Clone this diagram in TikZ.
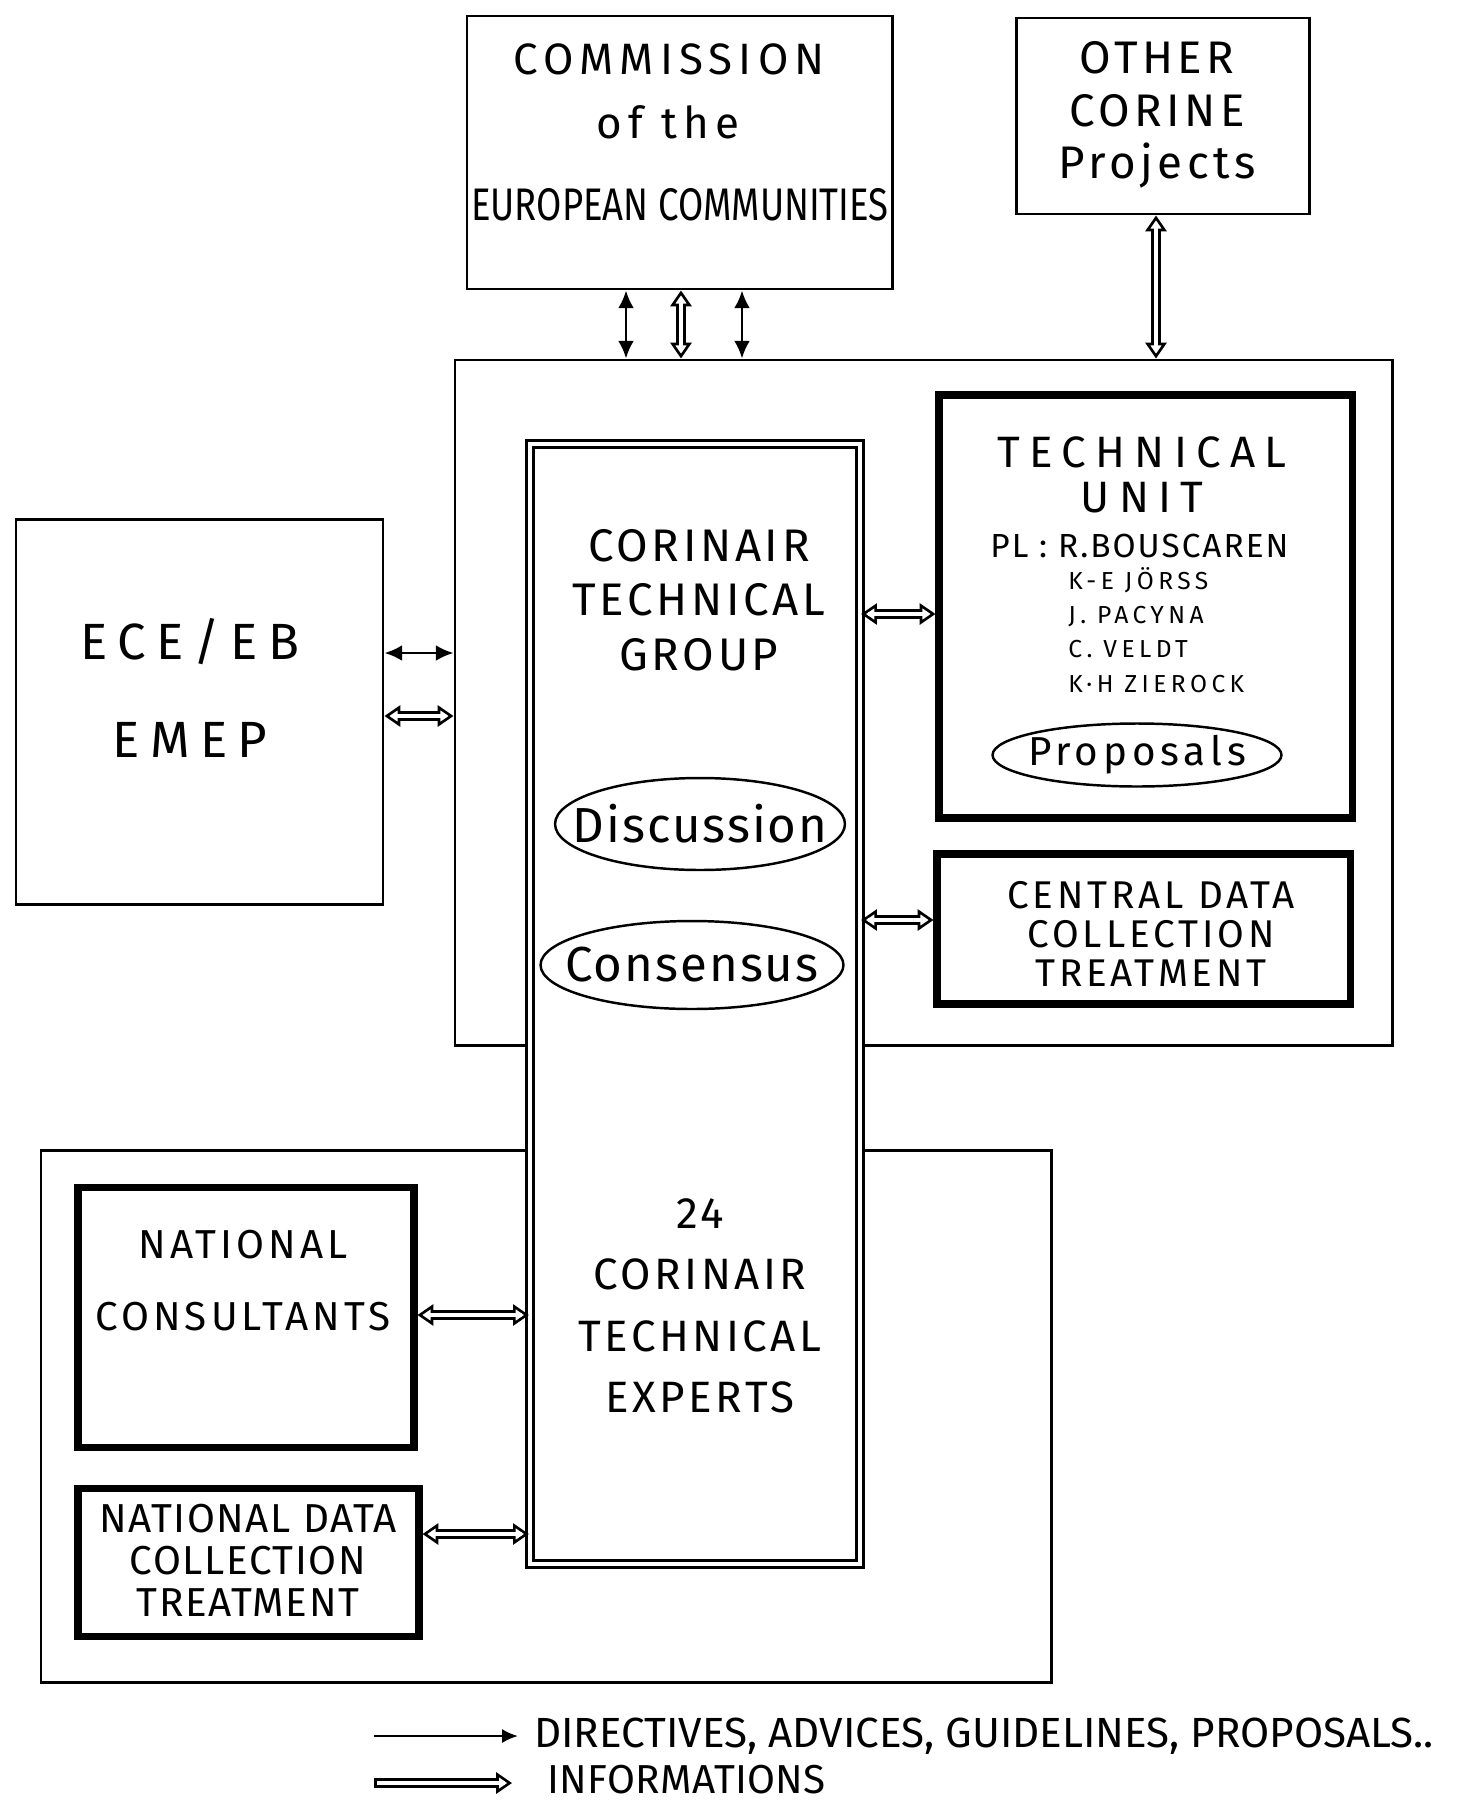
\documentclass[tikz,border=0pt]{standalone}
\usepackage{fontspec}
\setmainfont{Fira Sans}
\newfontfamily\hand{Fira Sans}
\newfontfamily\handnarrow[FakeStretch=0.8]{Fira Sans}
\usetikzlibrary{arrows.meta,shapes.geometric,fit,decorations.markings}
\tikzset{
	infotip/.tip={Triangle[open,length=9pt,width=12pt]},
	box/.style={draw,line width=1.7pt,inner sep=0pt},
	heavybox/.style={draw,line width=4pt,inner sep=0pt},
	bubble/.style={ellipse,draw,line width=1.4pt,inner xsep=-40pt,inner ysep=-5pt},
	txt/.style n args={3}{font={\hand\fontsize{#1}{#2}\selectfont\addfontfeatures{LetterSpace=#3}},align=center,inner sep=0pt},
	narrowtxt/.style={font={\handnarrow\fontsize{#1}{#1}\selectfont},inner sep=0pt},
	dirArrow/.style={line width=1.5pt,{Latex[length=10pt,width=9pt]}-{Latex[length=10pt,width=9pt]}},
	dirArrowEnd/.style={line width=1.5pt,-{Latex[length=9pt,width=8pt]}},
	infoArrow/.style={line width=5.2pt,shorten <=8pt,shorten >=8pt,
		preaction={decorate,decoration={markings,
			mark=at position 0 with {\arrowreversed[line width=1.5pt]{infotip}},
			mark=at position 1 with {\arrow[line width=1.5pt]{infotip}}}},
		postaction={draw,white,line width=2.2pt,shorten <=4pt,shorten >=4pt}},
	infoArrowEnd/.style={line width=5.2pt,shorten >=8pt,
		preaction={decorate,decoration={markings,
			mark=at position 1 with {\arrow[line width=1.5pt]{infotip}}}},
		postaction={draw,white,line width=2.2pt,shorten <=1.6pt,shorten >=4pt}},
}
\begin{document}
\begin{tikzpicture}[x=0.02cm,y=-0.02cm]
	\useasboundingbox (0,0) rectangle (1470,1805);
	% boxes
	\node[box,fit={(467,16) (892,289)}] (comm) {};
	\node[box,fit={(1016,18) (1309,214)}] (other) {};
	\node[box,fit={(455,360) (1392,1045)}] (core) {};
	\node[box,fit={(16,519) (383,904)}] (ece) {};
	\node[box,fit={(41,1150) (1051,1682)}] (national) {};
	\node[heavybox,fit={(939,395) (1352,818)}] (techunit) {};
	\node[heavybox,fit={(937,854) (1350,1004)}] (central) {};
	\node[heavybox,fit={(78,1187) (414,1447)}] (consult) {};
	\node[heavybox,fit={(78,1488) (419,1636)}] (natdata) {};
	\node[draw,fill=white,line width=1.3pt,double,double distance=2.6pt,inner sep=0pt,fit={(530,444) (860,1564)}] (column) {};

	% texts
	\node[txt={25}{30}{14}] (commA) at (669,59) {COMMISSION};
	\node[txt={25}{30}{14}] (commB) at (668,122) {of the};
	\node[narrowtxt=26] (commC) at (680,205) {EUROPEAN COMMUNITIES};
	\node[txt={26}{30}{10}] (otherTxt) at (1157,115) {OTHER\\CORINE\\Projects};
	\node[txt={25}{26}{21}] (tuTitle) at (1142,475) {TECHNICAL\\UNIT};
	\node[txt={19}{22}{6},anchor=west] (tuLead) at (990,546) {PL : R.BOUSCAREN};
	\node[txt={14}{19.5}{18},anchor=west,align=left] (tuNames) at (1068,630) {K-E JÖRSS\\J. PACYNA\\C. VELDT\\K·H ZIEROCK};
	\node[txt={23}{28}{12},bubble,minimum width=5.78cm,minimum height=1.26cm] (proposals) at (1137,755) {Proposals};
	\node[txt={26}{31}{8}] (ctgTxt) at (699,600) {CORINAIR\\TECHNICAL\\GROUP};
	\node[txt={28}{34}{4},bubble,minimum width=5.8cm,minimum height=1.84cm] (discussion) at (700,824) {Discussion};
	\node[txt={28}{34}{4},bubble,minimum width=6.06cm,minimum height=1.76cm] (consensus) at (692,965) {Consensus};
	\node[txt={25}{35}{8}] (expTxt) at (700,1306) {24\\CORINAIR\\TECHNICAL\\EXPERTS};
	\node[txt={29}{56}{20}] (eceTxt) at (190,688) {ECE/EB\\EMEP};
	\node[txt={22}{22}{10}] (centralTxt) at (1151,934) {CENTRAL DATA\\COLLECTION\\TREATMENT};
	\node[txt={23}{41}{10}] (consultTxt) at (243,1281) {NATIONAL\\CONSULTANTS};
	\node[txt={23}{24}{4}] (natdataTxt) at (248,1560) {NATIONAL DATA\\COLLECTION\\TREATMENT};

	% connectors
	\draw[dirArrow] (comm.south -| 626,0) -- (core.north -| 626,0);
	\draw[infoArrow] (comm.south -| 681,0) -- (core.north -| 681,0);
	\draw[dirArrow] (comm.south -| 742,0) -- (core.north -| 742,0);
	\draw[infoArrow] (other.south -| 1156,0) -- (core.north -| 1156,0);
	\draw[dirArrow] (ece.east |- 0,653) -- (core.west |- 0,653);
	\draw[infoArrow] (ece.east |- 0,716) -- (core.west |- 0,716);
	\draw[infoArrow] (column.east |- 0,614) -- (techunit.west |- 0,614);
	\draw[infoArrow] (column.east |- 0,920) -- (central.west |- 0,920);
	\draw[infoArrow] (consult.east |- 0,1315) -- (column.west |- 0,1315);
	\draw[infoArrow] (natdata.east |- 0,1534) -- (column.west |- 0,1534);

	% legend
	\coordinate (legDir) at (374,1736);
	\coordinate (legInfo) at (374,1783);
	\node[txt={24}{24}{0},anchor=west,inner xsep=9pt] (legDirTxt) at (518,1736) {DIRECTIVES, ADVICES, GUIDELINES, PROPOSALS..};
	\node[txt={23}{23}{1},anchor=west,inner xsep=20pt] (legInfoTxt) at (512,1780) {INFORMATIONS};
	\draw[dirArrowEnd] (legDir) -- (legDirTxt.west);
	\draw[infoArrowEnd] (legInfo) -- (legInfoTxt.west |- legInfo);
\end{tikzpicture}
\end{document}
